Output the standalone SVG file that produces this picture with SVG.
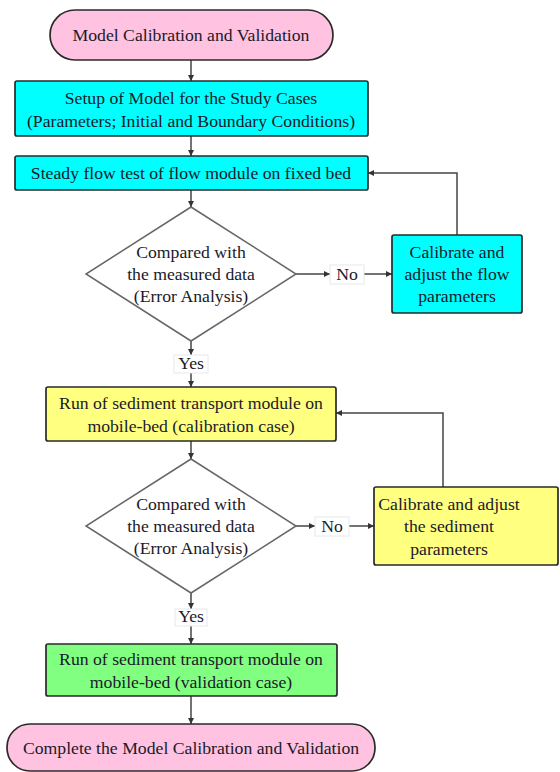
<svg xmlns="http://www.w3.org/2000/svg" width="560" height="772" viewBox="0 0 560 772">
<style>
.n{stroke:#2a2a2a;stroke-width:1.7}
.t{font-family:"Liberation Serif","DejaVu Serif",serif;font-size:17.7px;fill:#1a1a2a;text-anchor:middle}
.c{fill:none;stroke:#444;stroke-width:1.5}
.lb{fill:#fff;stroke:#e4e8f0;stroke-width:1}
</style>
<defs>
<marker id="a" viewBox="0 0 10 10" refX="10" refY="5" markerWidth="6" markerHeight="6" orient="auto" markerUnits="userSpaceOnUse"><path d="M0,0 L10,5 L0,10 z" fill="#333"/></marker>
</defs>
<rect width="560" height="772" fill="#fff"/>
<g id="connectors">
<path class="c" d="M191,60 V81" marker-end="url(#a)"/>
<path class="c" d="M191,136 V156" marker-end="url(#a)"/>
<path class="c" d="M191,190 V207" marker-end="url(#a)"/>
<path class="c" d="M296,274 H330" marker-end="url(#a)"/>
<path class="c" d="M364,274 H392" marker-end="url(#a)"/>
<path class="c" d="M457,235 V173 H368" marker-end="url(#a)"/>
<path class="c" d="M191,341 V355" marker-end="url(#a)"/>
<path class="c" d="M191,373 V387" marker-end="url(#a)"/>
<path class="c" d="M191,441 V459" marker-end="url(#a)"/>
<path class="c" d="M296,526 H315" marker-end="url(#a)"/>
<path class="c" d="M349,526 H374" marker-end="url(#a)"/>
<path class="c" d="M443,487 V413 H336" marker-end="url(#a)"/>
<path class="c" d="M191,593 V609" marker-end="url(#a)"/>
<path class="c" d="M191,626 V644" marker-end="url(#a)"/>
<path class="c" d="M191,696 V724" marker-end="url(#a)"/>
</g>
<g id="start">
<rect class="n" x="50" y="10" width="283" height="50" rx="25" fill="#ffc2e1"/>
<text class="t" x="191" y="41">Model Calibration and Validation</text>
</g>
<g id="setup">
<rect class="n" x="15" y="81" width="353" height="55" rx="2" fill="#00ffff"/>
<text class="t" x="191" y="104">Setup of Model for the Study Cases</text>
<text class="t" x="191" y="127">(Parameters; Initial and Boundary Conditions)</text>
</g>
<g id="steady">
<rect class="n" x="15" y="156" width="353" height="34" rx="2" fill="#00ffff"/>
<text class="t" x="191" y="179">Steady flow test of flow module on fixed bed</text>
</g>
<g id="decision1">
<path d="M191,207 L296,274 L191,341 L86,274 Z" fill="#fff" stroke="#666" stroke-width="1.5"/>
<text class="t" x="191" y="258">Compared with</text>
<text class="t" x="191" y="280">the measured data</text>
<text class="t" x="191" y="302">(Error Analysis)</text>
</g>
<g id="no1">
<rect class="lb" x="330" y="265" width="34" height="19"/>
<text class="t" x="347" y="280">No</text>
</g>
<g id="calib1">
<rect class="n" x="392" y="235" width="130" height="78" rx="2" fill="#00ffff"/>
<text class="t" x="457" y="258">Calibrate and</text>
<text class="t" x="457" y="280">adjust the flow</text>
<text class="t" x="457" y="302">parameters</text>
</g>
<g id="yes1">
<rect class="lb" x="174" y="355" width="34" height="18"/>
<text class="t" x="191" y="369">Yes</text>
</g>
<g id="sedcal">
<rect class="n" x="46" y="387" width="290" height="54" rx="2" fill="#ffff80"/>
<text class="t" x="191" y="409">Run of sediment transport module on</text>
<text class="t" x="191" y="432">mobile-bed (calibration case)</text>
</g>
<g id="decision2">
<path d="M191,459 L296,526 L191,593 L86,526 Z" fill="#fff" stroke="#666" stroke-width="1.5"/>
<text class="t" x="191" y="510">Compared with</text>
<text class="t" x="191" y="532">the measured data</text>
<text class="t" x="191" y="554">(Error Analysis)</text>
</g>
<g id="no2">
<rect class="lb" x="315" y="517" width="34" height="19"/>
<text class="t" x="332" y="532">No</text>
</g>
<g id="calib2">
<rect class="n" x="374" y="487" width="184" height="78" rx="2" fill="#ffff80"/>
<text class="t" x="449" y="510">Calibrate and adjust</text>
<text class="t" x="449" y="532">the sediment</text>
<text class="t" x="449" y="555">parameters</text>
</g>
<g id="yes2">
<rect class="lb" x="175" y="609" width="32" height="17"/>
<text class="t" x="191" y="622">Yes</text>
</g>
<g id="sedval">
<rect class="n" x="46" y="644" width="291" height="52" rx="2" fill="#80ff80"/>
<text class="t" x="191" y="665">Run of sediment transport module on</text>
<text class="t" x="191" y="688">mobile-bed (validation case)</text>
</g>
<g id="end">
<rect class="n" x="7" y="724" width="368" height="47" rx="23" fill="#ffc2e1"/>
<text class="t" x="191" y="754">Complete the Model Calibration and Validation</text>
</g>
</svg>
